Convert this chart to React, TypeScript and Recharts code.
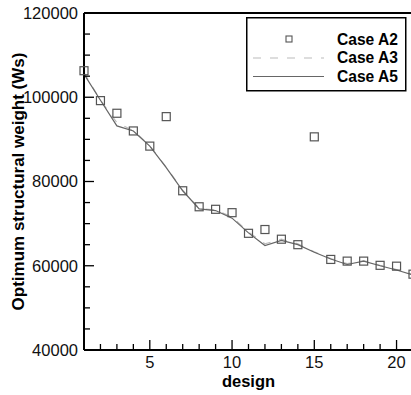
import * as React from "react";
import {
  ComposedChart,
  Line,
  XAxis,
  YAxis,
  ReferenceLine,
} from "recharts";

const designs = [1, 2, 3, 4, 5, 6, 7, 8, 9, 10, 11, 12, 13, 14, 15, 16, 17, 18, 19, 20, 21];
const caseA2 = [106300, 99200, 96200, 92000, 88400, 95400, 77800, 74000, 73400, 72600, 67700, 68600, 66300, 65000, 90600, 61500, 61100, 61100, 60100, 59900, 58000];
const caseA3 = [105800, 99300, 94000, 92100, 88500, 83400, 77900, 73600, 73200, 71600, 68000, 65200, 66300, 65200, 63300, 61700, 60500, 61200, 60100, 59100, 57900];
const caseA5 = [105500, 99300, 93200, 92000, 88400, 83300, 77800, 73500, 73100, 71300, 67800, 64800, 66000, 65000, 63200, 61600, 60300, 61100, 60000, 59000, 57800];
const xTicks = [1, 2, 3, 4, 5, 6, 7, 8, 9, 10, 11, 12, 13, 14, 15, 16, 17, 18, 19, 20, 21];
const yTicks = [40000, 45000, 50000, 55000, 60000, 65000, 70000, 75000, 80000, 85000, 90000, 95000, 100000, 105000, 110000, 115000, 120000];
const seriesNames = ["Case A2", "Case A3", "Case A5"];

const rows = designs.map((d, i) => ({
  design: d,
  A2: caseA2[i],
  A3: caseA3[i],
  A5: caseA5[i],
}));

const FONT = '"Liberation Sans", Arial, Helvetica, sans-serif';

const XTick = (props: any) => {
  const { x, y, payload } = props;
  const major = payload.value % 5 === 0;
  return (
    <g>
      <line x1={x} y1={y} x2={x} y2={y - (major ? 10 : 6)} stroke="#000" strokeWidth={1.3} />
      {major && (
        <text x={x} y={y + 18} textAnchor="middle" fontSize={16.5} fontFamily={FONT} fill="#111">
          {payload.value}
        </text>
      )}
    </g>
  );
};

const YTick = (props: any) => {
  const { x, y, payload } = props;
  const major = payload.value % 20000 === 0;
  return (
    <g>
      <line x1={x} y1={y} x2={x + (major ? 10 : 6)} y2={y} stroke="#000" strokeWidth={1.3} />
      {major && (
        <text x={x - 6} y={y} dy="0.36em" textAnchor="end" fontSize={16.5} fontFamily={FONT} fill="#111">
          {payload.value}
        </text>
      )}
    </g>
  );
};

const Square = (p: any) => (
  <rect
    key={`sq-${p.index}`}
    x={p.cx - 4}
    y={p.cy - 4}
    width={8}
    height={8}
    fill="none"
    stroke="#555"
    strokeWidth={1.2}
  />
);

const LegendBox = () => (
  <svg width={161} height={75} style={{ display: "block" }}>
    <rect x={0.75} y={0.75} width={159} height={73} fill="#fff" stroke="#000" strokeWidth={1.5} />
    <rect x={40} y={19} width={6} height={6} fill="none" stroke="#555" strokeWidth={1.1} />
    <line x1={7} y1={41} x2={78} y2={41} stroke="#bbb" strokeWidth={1.2} strokeDasharray="8 9" />
    <line x1={7} y1={59.5} x2={78} y2={59.5} stroke="#666" strokeWidth={1.2} />
    {seriesNames.map((n, i) => (
      <text
        key={n}
        x={91}
        y={22 + i * 18.7}
        dy="0.36em"
        fontSize={15.6}
        fontWeight="bold"
        fontFamily={FONT}
        fill="#000"
      >
        {n}
      </text>
    ))}
  </svg>
);

export default function App() {
  return (
    <div style={{ position: "absolute", left: 0, top: 0, width: 411, height: 395, overflow: "hidden", background: "#fff" }}>
      <ComposedChart
        width={420}
        height={395}
        data={rows}
        margin={{ top: 13, right: 7, left: 0, bottom: 0 }}
      >
        <XAxis
          dataKey="design"
          type="number"
          domain={[1, 21]}
          ticks={xTicks}
          interval={0}
          height={45}
          tickSize={0}
          tickMargin={0}
          tickLine={false}
          tick={<XTick />}
          axisLine={{ stroke: "#000", strokeWidth: 2 }}
          label={(p: any) => {
            const vb = p.viewBox;
            return (
              <text
                x={vb.x + vb.width / 2}
                y={vb.y + 37}
                textAnchor="middle"
                fontSize={16.5}
                fontWeight="bold"
                fontFamily={FONT}
                fill="#000"
              >
                design
              </text>
            );
          }}
        />
        <YAxis
          type="number"
          domain={[40000, 120000]}
          ticks={yTicks}
          interval={0}
          width={84}
          tickSize={0}
          tickMargin={0}
          tickLine={false}
          tick={<YTick />}
          axisLine={{ stroke: "#000", strokeWidth: 2 }}
          label={(p: any) => {
            const vb = p.viewBox;
            const cx = vb.x + 18;
            const cy = vb.y + vb.height / 2;
            return (
              <text
                x={cx}
                y={cy}
                transform={`rotate(-90 ${cx} ${cy})`}
                textAnchor="middle"
                dy="0.36em"
                fontSize={17}
                fontWeight="bold"
                fontFamily={FONT}
                fill="#000"
              >
                Optimum structural weight (Ws)
              </text>
            );
          }}
        />
        <ReferenceLine y={120000} stroke="#000" strokeWidth={2} ifOverflow="visible" />
        <Line
          dataKey="A3"
          type="linear"
          stroke="#bbb"
          strokeWidth={1.2}
          strokeDasharray="8 9"
          dot={false}
          isAnimationActive={false}
        />
        <Line
          dataKey="A5"
          type="linear"
          stroke="#666"
          strokeWidth={1.2}
          dot={false}
          isAnimationActive={false}
        />
        <Line
          dataKey="A2"
          type="linear"
          stroke="none"
          dot={Square}
          activeDot={false}
          isAnimationActive={false}
        />
      </ComposedChart>
      <div style={{ position: "absolute", top: 17, left: 246 }}>
        <LegendBox />
      </div>
    </div>
  );
}
